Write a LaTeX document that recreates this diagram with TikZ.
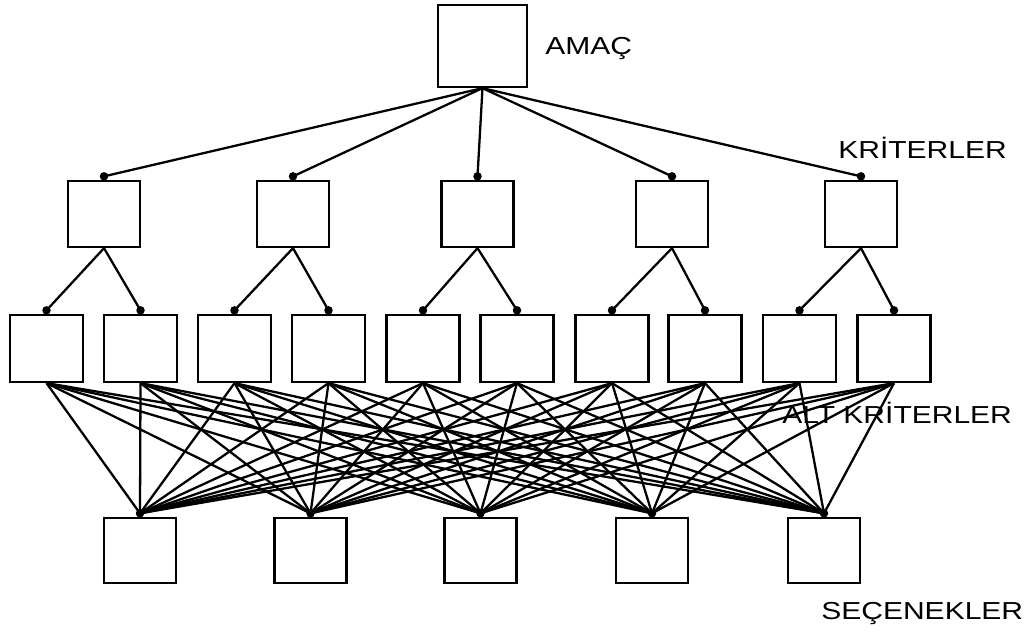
\documentclass[tikz,border=0pt]{standalone}
\usepackage{fontspec}
\setmainfont{Liberation Sans}
\usepackage{graphicx}
\usepackage{tikz}
\usetikzlibrary{positioning}
\newcommand{\widetext}[1]{\scalebox{1.22}[1]{#1}}

\begin{document}
\begin{tikzpicture}[x=0.02cm, y=-0.02cm,
    box/.style={draw, line width=1.3pt, minimum width=1.44cm, minimum height=1.32cm, inner sep=0pt},
    link/.style={line width=1.3pt},
    lbl/.style={anchor=base west, inner sep=0pt, font=\fontsize{14}{16}\selectfont}]
  \useasboundingbox (0,0) rectangle (1029,632);

  % boxes
  \node[box, minimum width=1.78cm, minimum height=1.64cm] (goal) at (482.5,46) {};
  \foreach \x [count=\i] in {104,293,477.5,672,861}
    \node[box] (c\i) at (\x,214) {};
  \foreach \x [count=\i] in {46.5,140.5,234.5,328.5,423,517,612,705,799.5,894}
    \node[box, minimum width=1.46cm, minimum height=1.34cm] (s\i) at (\x,348.5) {};
  \foreach \x [count=\i] in {140,310.5,480.5,652,824}
    \node[box, minimum height=1.3cm] (a\i) at (\x,550.5) {};

  % goal -> criteria
  \foreach \i in {1,...,5} {
    \draw[link] (goal.south) -- ([yshift=2pt]c\i.north);
    \fill ([yshift=2pt]c\i.north) circle[radius=0.085cm];
  }
  % criteria -> sub-criteria
  \foreach \i in {1,...,5} {
    \pgfmathtruncatemacro\l{2*\i-1}
    \pgfmathtruncatemacro\r{2*\i}
    \draw[link] (c\i.south) -- ([yshift=2pt]s\l.north);
    \draw[link] (c\i.south) -- ([yshift=2pt]s\r.north);
    \fill ([yshift=2pt]s\l.north) circle[radius=0.085cm];
    \fill ([yshift=2pt]s\r.north) circle[radius=0.085cm];
  }
  % sub-criteria -> alternatives
  \foreach \s in {1,...,10}
    \foreach \a in {1,...,5}
      \draw[link] (s\s.south) -- ([yshift=2pt]a\a.north);
  \foreach \a in {1,...,5}
    \fill ([yshift=2pt]a\a.north) circle[radius=0.085cm];

  % labels
  \node[lbl] (goallbl) at (545,54) {\widetext{AMAÇ}};
  \node[lbl] (critlbl) at (838,158) {\widetext{KRİTERLER}};
  \node[lbl] (sublbl) at (782,423) {\widetext{ALT KRİTERLER}};
  \node[lbl] (altlbl) at (821,619) {\widetext{SEÇENEKLER}};
\end{tikzpicture}
\end{document}
